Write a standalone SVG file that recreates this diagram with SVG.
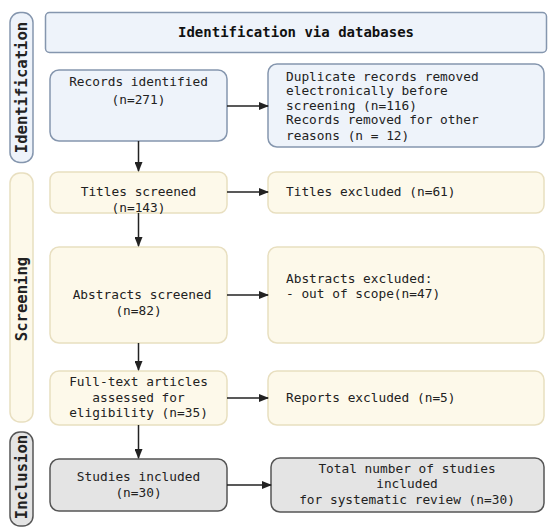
<svg xmlns="http://www.w3.org/2000/svg" width="550" height="532" viewBox="0 0 550 532">
<defs>
<marker id="ah" markerWidth="10" markerHeight="8" refX="9" refY="4" orient="auto" markerUnits="userSpaceOnUse">
<path d="M0,0 L10,4 L0,8 Z" fill="#222"/>
</marker>
</defs>
<style>
.t{font-family:"DejaVu Sans Mono","Liberation Mono",monospace;font-size:12.8px;fill:#222}
.c{text-anchor:middle}
.h{font-family:"DejaVu Sans Mono","Liberation Mono",monospace;font-size:14px;font-weight:bold;fill:#111;text-anchor:middle}
.s{font-family:"DejaVu Sans Mono","Liberation Mono",monospace;font-size:15.6px;font-weight:bold;fill:#222;text-anchor:middle}
.blue{fill:#eef3fa;stroke:#8596ae;stroke-width:1.5}
.cream{fill:#fdf9ea;stroke:#e8dfc0;stroke-width:1.5}
.gray{fill:#e4e4e4;stroke:#555;stroke-width:1.5}
.conn line{stroke:#222;stroke-width:1.5;marker-end:url(#ah)}
</style>
<rect width="550" height="532" fill="#fff"/>

<g id="label-identification">
<rect class="blue" x="10" y="12.5" width="23" height="150" rx="10"/>
<text class="s" transform="translate(27,87.5) rotate(-90)">Identification</text>
</g>
<g id="label-screening">
<rect class="cream" x="10" y="173" width="23" height="249" rx="10"/>
<text class="s" transform="translate(27,299) rotate(-90)">Screening</text>
</g>
<g id="label-inclusion">
<rect class="gray" x="10" y="432" width="23" height="94" rx="10"/>
<text class="s" transform="translate(27,477) rotate(-90)">Inclusion</text>
</g>

<g id="header">
<rect class="blue" x="45.5" y="12.5" width="501" height="40" rx="4"/>
<text class="h" x="296" y="37">Identification via databases</text>
</g>

<g id="records">
<rect class="blue" x="50" y="70" width="177" height="71" rx="9"/>
<text class="t c" x="138.5" y="86">Records identified</text>
<text class="t c" x="138.5" y="104">(n=271)</text>
</g>
<g id="duplicates">
<rect class="blue" x="268" y="64" width="276" height="83" rx="9"/>
<text class="t" x="286" y="81">Duplicate records removed</text>
<text class="t" x="286" y="95">electronically before</text>
<text class="t" x="286" y="110">screening (n=116)</text>
<text class="t" x="286" y="124">Records removed for other</text>
<text class="t" x="286" y="140">reasons  (n = 12)</text>
</g>

<g id="titles">
<rect class="cream" x="50" y="172" width="177" height="41" rx="8"/>
<text class="t c" x="138.5" y="196">Titles screened</text>
<text class="t c" x="138.5" y="212">(n=143)</text>
</g>
<g id="titles-excluded">
<rect class="cream" x="268" y="172" width="276" height="41" rx="8"/>
<text class="t" x="286" y="196">Titles excluded (n=61)</text>
</g>

<g id="abstracts">
<rect class="cream" x="50" y="247" width="177" height="96" rx="9"/>
<text class="t c" x="142" y="299">Abstracts screened</text>
<text class="t c" x="138.5" y="315">(n=82)</text>
</g>
<g id="abstracts-excluded">
<rect class="cream" x="268" y="247" width="276" height="96" rx="9"/>
<text class="t" x="286" y="283">Abstracts excluded:</text>
<text class="t" x="286" y="298">- out of scope(n=47)</text>
</g>

<g id="fulltext">
<rect class="cream" x="50" y="371" width="177" height="54" rx="9"/>
<text class="t c" x="138.5" y="386">Full-text articles</text>
<text class="t c" x="138.5" y="402">assessed for</text>
<text class="t c" x="138.5" y="417">eligibility (n=35)</text>
</g>
<g id="reports-excluded">
<rect class="cream" x="268" y="371" width="276" height="54" rx="9"/>
<text class="t" x="286" y="402">Reports excluded (n=5)</text>
</g>

<g id="studies">
<rect class="gray" x="50" y="459" width="177" height="52" rx="9"/>
<text class="t c" x="138.5" y="481">Studies included</text>
<text class="t c" x="138.5" y="497">(n=30)</text>
</g>
<g id="total">
<rect class="gray" x="271" y="458" width="273" height="54" rx="9"/>
<text class="t c" x="407" y="473">Total number of studies</text>
<text class="t c" x="407" y="488">included</text>
<text class="t c" x="407" y="504">for systematic review (n=30)</text>
</g>

<g id="connectors" class="conn">
<line x1="227" y1="106" x2="268" y2="106"/>
<line x1="138.5" y1="141" x2="138.5" y2="171"/>
<line x1="227" y1="192" x2="268" y2="192"/>
<line x1="138.5" y1="213" x2="138.5" y2="246"/>
<line x1="227" y1="295" x2="268" y2="295"/>
<line x1="138.5" y1="343" x2="138.5" y2="370"/>
<line x1="227" y1="398" x2="268" y2="398"/>
<line x1="138.5" y1="425" x2="138.5" y2="458"/>
<line x1="227" y1="485" x2="271" y2="485"/>
</g>
</svg>
